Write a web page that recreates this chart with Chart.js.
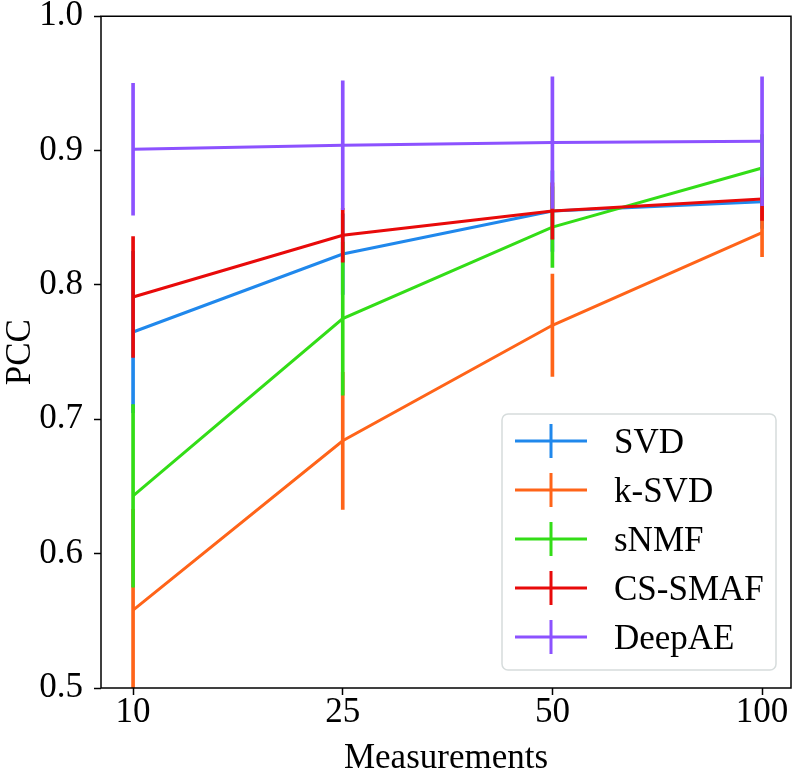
<!DOCTYPE html>
<html>
<head>
<meta charset="utf-8">
<script src="https://cdn.jsdelivr.net/npm/chart.js@4"></script>
<style>
html, body { margin: 0; padding: 0; background: #fff; }
</style>
</head>
<body>
<canvas id="pcc-chart" width="798" height="771"></canvas>
<script>
// x categories (number of measurements)
const measurements = ['10', '25', '50', '100'];
const yTicks = [0.5, 0.6, 0.7, 0.8, 0.9, 1.0];

const seriesNames = ['SVD', 'k-SVD', 'sNMF', 'CS-SMAF', 'DeepAE'];
const seriesColors = ['#2088ec', '#ff6419', '#33dd17', '#e80a0a', '#8c52ff'];

// mean PCC and error bar half-widths
const svd = [0.765, 0.823, 0.855, 0.862];
const svdErr = [0.06, 0.03, 0.03, 0.02];
const kSvd = [0.558, 0.684, 0.770, 0.839];
const kSvdErr = [0.075, 0.051, 0.038, 0.018];
const snmf = [0.643, 0.775, 0.843, 0.887];
const snmfErr = [0.068, 0.057, 0.03, 0.025];
const csSmaf = [0.791, 0.837, 0.855, 0.864];
const csSmafErr = [0.045, 0.02, 0.021, 0.016];
const deepAE = [0.901, 0.904, 0.906, 0.907];
const deepAEErr = [0.049, 0.048, 0.049, 0.048];

const means = [svd, kSvd, snmf, csSmaf, deepAE];
const errs = [svdErr, kSvdErr, snmfErr, csSmafErr, deepAEErr];

Chart.defaults.font.family = '"Liberation Serif", "Times New Roman", serif';
Chart.defaults.font.size = 35;
Chart.defaults.color = '#000';

var datasets = [];
means.forEach(function (vals, i) {
    // later series are drawn on top, as in the original
    datasets.push({
        type: 'bar',
        label: seriesNames[i] + ' err',
        data: vals.map((v, j) => ({ x: j, y: [v - errs[i][j], v + errs[i][j]] })),
        backgroundColor: seriesColors[i],
        borderWidth: 0,
        barThickness: 3,
        grouped: false,
        order: 4 - i,
    });
    datasets.push({
        type: 'line',
        label: seriesNames[i],
        data: vals.map((v, j) => ({ x: j, y: v })),
        borderColor: seriesColors[i],
        borderWidth: 3,
        pointRadius: 0,
        tension: 0,
        fill: false,
        order: 4 - i,
    });
});

const frame = {
    id: 'frame',
    afterDatasetsDraw(chart) {
        const { ctx, chartArea: a } = chart;
        ctx.save();
        ctx.strokeStyle = '#000';
        ctx.lineWidth = 1.5;
        ctx.strokeRect(a.left, a.top, a.right - a.left, a.bottom - a.top);
        ctx.restore();
    }
};

const legendBox = {
    id: 'legendBox',
    afterDraw(chart) {
        const { ctx, chartArea } = chart;
        const w = 274, h = 256;
        const x = chartArea.right - 15 - w;
        const y = chartArea.bottom - 18 - h;
        ctx.save();
        ctx.fillStyle = 'rgba(255,255,255,0.85)';
        ctx.strokeStyle = '#d6dcdc';
        ctx.lineWidth = 1.5;
        ctx.beginPath();
        ctx.roundRect(x, y, w, h, 6);
        ctx.fill();
        ctx.stroke();
        seriesNames.forEach(function (name, i) {
            const cy = y + 27 + i * 49;
            ctx.strokeStyle = seriesColors[i];
            ctx.lineWidth = 3;
            ctx.beginPath();
            ctx.moveTo(x + 13, cy);
            ctx.lineTo(x + 85, cy);
            ctx.moveTo(x + 49, cy - 17);
            ctx.lineTo(x + 49, cy + 17);
            ctx.stroke();
            ctx.fillStyle = '#000';
            ctx.font = '35px "Liberation Serif", serif';
            ctx.textBaseline = 'alphabetic';
            ctx.fillText(name, x + 112, cy + 12);
        });
        ctx.restore();
    }
};

new Chart(document.getElementById('pcc-chart'), {
    type: 'line',
    data: { datasets: datasets },
    options: {
        responsive: false,
        devicePixelRatio: 1,
        animation: false,
        layout: { padding: { top: 14, right: 7, left: 0, bottom: 0 } },
        plugins: {
            legend: { display: false },
            tooltip: { enabled: false },
        },
        scales: {
            x: {
                type: 'linear',
                min: -0.153,
                max: 3.138,
                offset: false,
                afterBuildTicks: function (axis) {
                    axis.ticks = measurements.map((m, i) => ({ value: i }));
                },
                afterFit: function (axis) { axis.height = 83; },
                ticks: {
                    callback: (v) => measurements[v],
                    padding: 4,
                    maxRotation: 0,
                    font: { lineHeight: 0.8 },
                },
                grid: {
                    drawOnChartArea: false,
                    tickLength: 7,
                    tickColor: '#000',
                    tickWidth: 1.5,
                    offset: false,
                },
                border: { display: false },
                title: {
                    display: true,
                    text: 'Measurements',
                    font: { lineHeight: 0.7 },
                    padding: { top: 0, bottom: 0 },
                },
            },
            y: {
                min: 0.5,
                max: 1.0,
                afterBuildTicks: function (axis) {
                    axis.ticks = yTicks.map((v) => ({ value: v }));
                },
                afterFit: function (axis) { axis.width = 101; },
                ticks: {
                    callback: (v) => v.toFixed(1),
                    padding: 11,
                    font: { lineHeight: 0.3 },
                },
                grid: {
                    drawOnChartArea: false,
                    tickLength: 7,
                    tickColor: '#000',
                    tickWidth: 1.5,
                },
                border: { display: false },
                title: { display: true, text: 'PCC', padding: 0 },
            }
        }
    },
    plugins: [frame, legendBox],
});
</script>
</body>
</html>
